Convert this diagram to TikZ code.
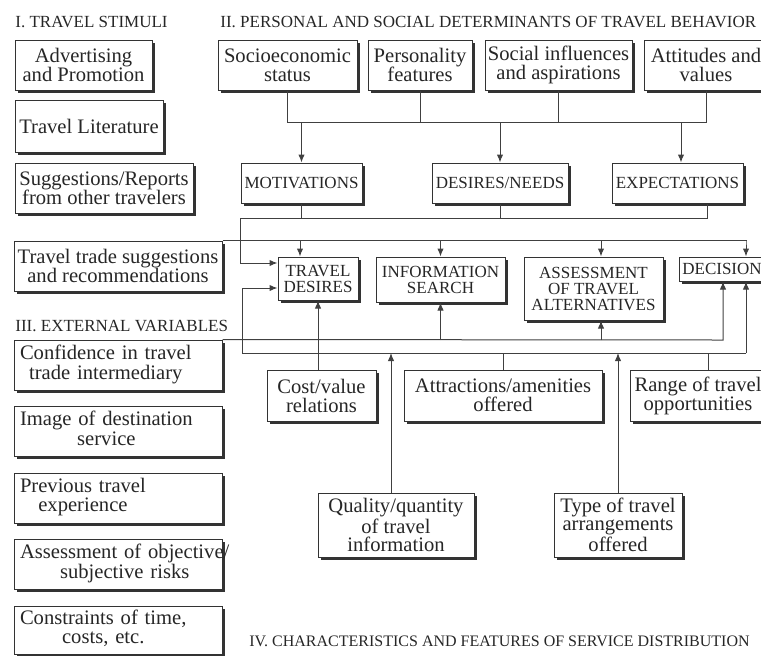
\documentclass[tikz,border=0pt]{standalone}
\usepackage{fontspec}
\setmainfont{Liberation Serif}
\usetikzlibrary{shadows,arrows.meta}
\newcommand{\blk}[1]{\begin{tabular}{@{}c@{}}#1\end{tabular}}

\begin{document}
\begin{tikzpicture}[x=0.5pt,y=-0.5pt,
  box node/.style={rectangle,draw=black!80,fill=white,line width=0.5pt,inner sep=0pt,align=center,
    text=black!85,font=\fontsize{10.3}{9.5}\selectfont,
    drop shadow={shadow xshift=1.6pt,shadow yshift=-1.6pt,fill=black!80,opacity=1}},
  cap node/.style={box node,font=\fontsize{8.5}{8}\selectfont},
  left node/.style={box node,align=left,text width=98pt},
  title node/.style={anchor=west,inner sep=0pt,text=black!85,font=\fontsize{8.5}{10}\selectfont},
  link/.style={draw=black!75,line width=0.5pt},
  arr/.style={link,-{Latex[length=4pt,width=3.2pt]}}]

  \useasboundingbox (0,0) rectangle (761,655);
  \clip (0,0) rectangle (761,655);

  \node[title node] (t1) at (15,22) {I. TRAVEL STIMULI};
  \node[title node] (t2) at (220,22) {II. PERSONAL AND SOCIAL DETERMINANTS OF TRAVEL BEHAVIOR};
  \node[title node] (t3) at (15,326) {III. EXTERNAL VARIABLES};
  \node[title node,font=\fontsize{8}{9}\selectfont] (t4) at (249,641) {IV. CHARACTERISTICS AND FEATURES OF SERVICE DISTRIBUTION};

  \node[box node,minimum width=68.5pt,minimum height=25pt] (adv) at (83.5,65) {Advertising\\and Promotion};
  \node[box node,minimum width=74pt,minimum height=26pt] (lit) at (89,126) {Travel Literature};
  \node[box node,minimum width=89pt,minimum height=25pt] (sugg) at (104,188) {Suggestions/Reports\\from other travelers};
  \node[box node,minimum width=104pt,minimum height=25pt] (trade) at (118,266) {Travel trade suggestions\\and recommendations};

  \node[left node,minimum width=104pt,minimum height=25pt] (conf) at (118,365) {\blk{Confidence in travel\\trade intermediary}};
  \node[left node,minimum width=104pt,minimum height=25pt] (image) at (118,431) {\blk{Image of destination\\service}};
  \node[left node,minimum width=104pt,minimum height=25pt] (prev) at (118,498) {\blk{Previous travel\\experience}};
  \node[left node,minimum width=104pt,minimum height=25pt] (risks) at (118,564) {\blk{Assessment of objective/\\subjective risks}};
  \node[left node,minimum width=104pt,minimum height=24pt] (limits) at (118,630) {\blk{Constraints of time,\\costs, etc.}};

  \node[box node,minimum width=69.5pt,minimum height=25pt] (socio) at (287.5,65) {Socioeconomic\\status};
  \node[box node,minimum width=52pt,minimum height=25pt] (pers) at (420,65) {Personality\\features};
  \node[box node,minimum width=73.5pt,minimum height=25pt] (social) at (558.5,65) {Social influences\\and aspirations};
  \node[box node,minimum width=62pt,minimum height=25pt] (att) at (706,65) {Attitudes and\\values};

  \node[cap node,minimum width=60.5pt,minimum height=20pt] (motiv) at (301.5,183) {MOTIVATIONS};
  \node[cap node,minimum width=68pt,minimum height=20pt] (needs) at (500,183) {DESIRES/NEEDS};
  \node[cap node,minimum width=65.5pt,minimum height=20pt] (expect) at (677.5,183) {EXPECTATIONS};

  \node[cap node,minimum width=40pt,minimum height=21.5pt] (wish) at (318,278.5) {TRAVEL\\DESIRES};
  \node[cap node,minimum width=64.5pt,minimum height=22.5pt] (search) at (440.5,279.5) {INFORMATION\\SEARCH};
  \node[cap node,minimum width=69.5pt,minimum height=31.5pt] (assess) at (593.5,288.5) {ASSESSMENT\\OF TRAVEL\\ALTERNATIVES};
  \node[cap node,minimum width=43pt,minimum height=12pt] (dec) at (722,269) {DECISION};

  \node[box node,minimum width=54.5pt,minimum height=25.5pt] (cost) at (321.5,395.5) {Cost/value\\relations};
  \node[box node,minimum width=99pt,minimum height=25.5pt] (attr) at (503,395.5) {Attractions/amenities\\offered};
  \node[box node,minimum width=68pt,minimum height=25.5pt] (range) at (698,395.5) {Range of travel\\opportunities};
  \node[box node,minimum width=78pt,minimum height=32pt,font=\fontsize{10.3}{9.2}\selectfont] (qual) at (396,525) {Quality/quantity\\of travel\\information};
  \node[box node,minimum width=64pt,minimum height=32pt,font=\fontsize{10.3}{9.2}\selectfont] (kind) at (618,525) {Type of travel\\arrangements\\offered};

  \coordinate (busA) at (287,122);
  \coordinate (busB) at (707,122);
  \coordinate (busC) at (240,218);
  \coordinate (busD) at (300,241);
  \coordinate (busE) at (746,241);
  \coordinate (busF) at (601,241);
  \coordinate (busG) at (723,340);
  \coordinate (busH) at (601,340);
  \coordinate (busI) at (242,353);
  \coordinate (busJ) at (746,353);
  \coordinate (busK) at (391,353);
  \coordinate (busL) at (708,353);

  \draw[link] (socio.south) |- (busB);
  \draw[link] (pers.south) -- (pers.south |- busA);
  \draw[link] (social.south) -- (social.south |- busA);
  \draw[link] (att.south) -- (att.south |- busA);
  \draw[arr] (motiv.north |- busA) -- (motiv.north);
  \draw[arr] (needs.north |- busA) -- (needs.north);
  \draw[arr] ([xshift=1.75pt]expect.north |- busA) -- ([xshift=1.75pt]expect.north);

  \draw[arr] (expect.south -| busB) |- (busC) |- ([yshift=7.75pt]wish.west);
  \draw[link] (motiv.south) -- (motiv.south |- busC);
  \draw[link] (needs.south) -- (needs.south |- busC);

  \draw[arr] (trade.north east) -| (busE) -- (busE |- dec.north);
  \draw[arr] (busD) -- (busD |- wish.north);
  \draw[arr] (search.north |- busD) -- (search.north);
  \draw[arr] (busF) -- (busF |- assess.north);

  \draw[arr] (conf.north east) -- (busG) -- (busG |- dec.south);
  \draw[arr] (search.south |- busG) -- (search.south);
  \draw[arr] (busH) -- (busH |- assess.south);

  \draw[arr] (busJ) -- (busI) |- ([yshift=-4.75pt]wish.west);
  \draw[arr] (busJ) -- (busJ |- dec.south);
  \draw[link] (attr.north) -- (attr.north |- busI);
  \draw[link] (range.north -| busL) -- (busL);
  \draw[arr] (qual.north -| busK) -- (busK);
  \draw[arr] (kind.north) -- (kind.north |- busI);
  \draw[arr] (wish.south |- cost.north) -- (wish.south);
\end{tikzpicture}
\end{document}
